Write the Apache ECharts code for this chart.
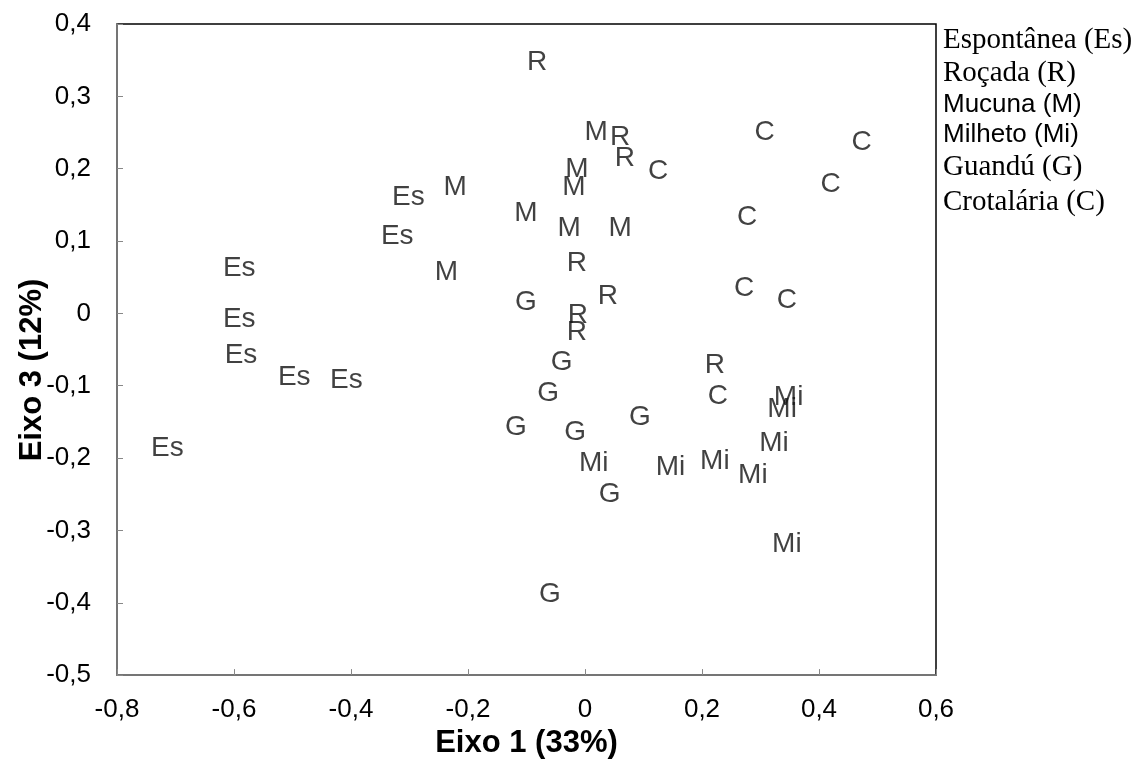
<!DOCTYPE html>
<html>
<head>
<meta charset="utf-8">
<script src="https://cdn.jsdelivr.net/npm/echarts@6/dist/echarts.min.js"></script>
<style>
    html, body { margin: 0; padding: 0; background: #fff; }
    #chart { width: 1146px; height: 764px; }
</style>
</head>
<body>
<div id="chart"></div>
<script>
    //---数据定义区----------------------------------
    var legendLines = ['Espontânea (Es)', 'Roçada (R)', 'Mucuna (M)', 'Milheto (Mi)', 'Guandú (G)', 'Crotalária (C)'];
    // 原图中 Mucuna / Milheto 两行是无衬线字体
    var legendSerif = [true, true, false, false, true, true];
    var groupCodes = ['Es', 'R', 'M', 'Mi', 'G', 'C'];

    var esPoints = [[-0.302, 0.161], [-0.321, 0.107], [-0.591, 0.063], [-0.591, -0.008],
        [-0.588, -0.058], [-0.497, -0.088], [-0.408, -0.093], [-0.714, -0.186]];
    var rPoints = [[-0.082, 0.347], [0.060, 0.243], [0.068, 0.215], [-0.014, 0.069],
        [0.039, 0.024], [-0.012, -0.003], [-0.014, -0.026], [0.222, -0.072]];
    var mPoints = [[0.019, 0.251], [-0.014, 0.199], [-0.019, 0.174], [-0.222, 0.174],
        [-0.101, 0.139], [-0.027, 0.118], [0.060, 0.117], [-0.237, 0.057]];
    var miPoints = [[0.015, -0.207], [0.146, -0.213], [0.222, -0.204], [0.287, -0.224],
        [0.348, -0.116], [0.337, -0.133], [0.323, -0.179], [0.345, -0.319]];
    var gPoints = [[-0.101, 0.016], [-0.040, -0.068], [-0.063, -0.110], [-0.118, -0.158],
        [-0.017, -0.165], [0.094, -0.144], [0.042, -0.250], [-0.060, -0.388]];
    var cPoints = [[0.125, 0.196], [0.307, 0.251], [0.473, 0.236], [0.420, 0.178],
        [0.277, 0.133], [0.272, 0.035], [0.345, 0.018], [0.227, -0.114]];

    var groupPoints = [esPoints, rPoints, mPoints, miPoints, gPoints, cPoints];

    var xTicks = { min: -0.8, max: 0.6, interval: 0.2 };
    var yTicks = { min: -0.5, max: 0.4, interval: 0.1 };
    //----------------------------------------------

    var sansFont = '"Liberation Sans", Arial, sans-serif';
    var serifFont = '"Liberation Serif", "Times New Roman", serif';
    var legendY = [40, 73, 105, 135, 167, 202];

    function fmtComma(v) {
        var s = (Math.round(v * 10) / 10).toString();
        return s.replace('.', ',');
    }

    var series = groupCodes.map(function (code, i) {
        return {
            name: code,
            type: 'scatter',
            symbolSize: 0,
            data: groupPoints[i],
            label: {
                show: true,
                position: 'inside',
                formatter: code,
                color: '#111',
                fontSize: 28,
                fontFamily: sansFont
            },
            z: 5
        };
    });

    var graphics = legendLines.map(function (t, i) {
        return {
            type: 'text',
            x: 943,
            y: legendY[i],
            style: {
                text: t,
                fill: '#000',
                verticalAlign: 'middle',
                font: legendSerif[i] ? '29px ' + serifFont : '26px ' + sansFont
            }
        };
    });
    // 纵轴标题（原图略偏下）
    graphics.push({
        type: 'text',
        x: 32,
        y: 370,
        rotation: Math.PI / 2,
        style: {
            text: 'Eixo 3 (12%)',
            fill: '#000',
            align: 'center',
            verticalAlign: 'middle',
            font: 'bold 31px ' + sansFont
        }
    });

    var axisLabelStyle = {
        color: '#000',
        fontSize: 26,
        fontFamily: sansFont
    };

    var option = {
        animation: false,
        backgroundColor: '#fff',
        grid: {
            left: 117, right: 210, top: 24, bottom: 87,
            show: true,
            borderColor: '#000',
            borderWidth: 1.5
        },
        xAxis: {
            type: 'value',
            min: xTicks.min, max: xTicks.max, interval: xTicks.interval,
            name: 'Eixo 1 (33%)',
            nameLocation: 'middle',
            nameGap: 52,
            nameTextStyle: { color: '#000', fontSize: 31, fontWeight: 'bold', fontFamily: sansFont },
            axisLine: { show: true, onZero: false, lineStyle: { color: '#888', width: 1.5 } },
            axisTick: { show: true, inside: true, length: 6, lineStyle: { color: '#888' } },
            axisLabel: Object.assign({ margin: 22, formatter: fmtComma }, axisLabelStyle),
            splitLine: { show: false }
        },
        yAxis: {
            type: 'value',
            min: yTicks.min, max: yTicks.max, interval: yTicks.interval,
            axisLine: { show: true, onZero: false, lineStyle: { color: '#888', width: 1.5 } },
            axisTick: { show: true, inside: true, length: 6, lineStyle: { color: '#888' } },
            axisLabel: Object.assign({ margin: 26, formatter: fmtComma }, axisLabelStyle),
            splitLine: { show: false }
        },
        graphic: graphics,
        series: series
    };

    var chart = echarts.init(document.getElementById('chart'));
    chart.setOption(option);
</script>
</body>
</html>
